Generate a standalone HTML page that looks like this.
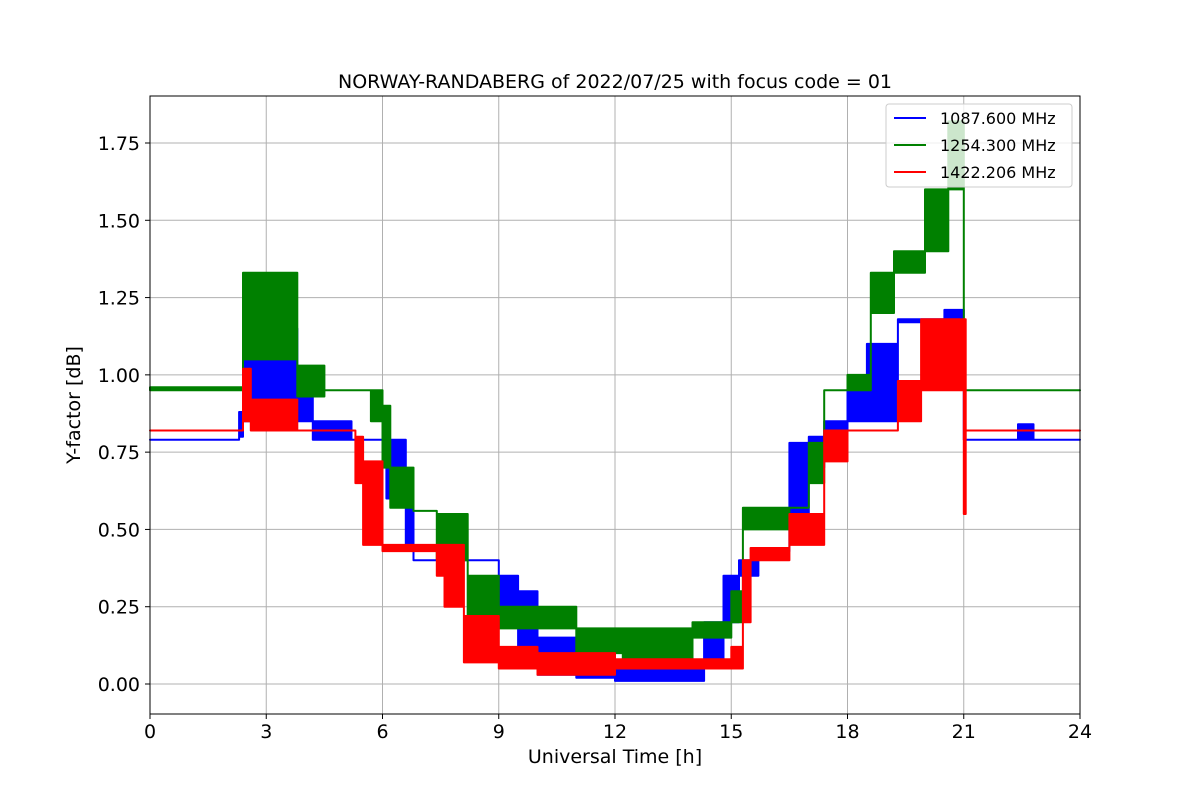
<!DOCTYPE html>
<html><head><meta charset="utf-8"><style>
body{margin:0;background:#fff;font-family:"Liberation Sans","DejaVu Sans",sans-serif}
svg text{font-family:"DejaVu Sans","Liberation Sans",sans-serif}
</style></head><body>
<svg id="chart" width="1200" height="800" viewBox="0 0 1200 800" xmlns="http://www.w3.org/2000/svg">
<rect width="1200" height="800" fill="#fff"/>
<g id="grid"></g>
<g id="series"></g>
<rect x="150" y="96" width="930" height="618" fill="none" stroke="#000" stroke-width="1"/>
<g id="ticks"></g>
<text x="615" y="88" text-anchor="middle" font-size="19">NORWAY-RANDABERG of 2022/07/25 with focus code = 01</text>
<text x="615" y="763" text-anchor="middle" font-size="19">Universal Time [h]</text>
<text transform="translate(80,405) rotate(-90)" text-anchor="middle" font-size="19">Y-factor [dB]</text>
<g>
<rect x="886" y="104" width="186" height="83" fill="#fff" fill-opacity="0.8" stroke="#ccc" rx="3"/>
<g><line x1="894" y1="118" x2="926" y2="118" stroke="blue" stroke-width="2"/><text x="940" y="124" font-size="16">1087.600 MHz</text></g>
<g><line x1="894" y1="145" x2="926" y2="145" stroke="green" stroke-width="2"/><text x="940" y="151" font-size="16">1254.300 MHz</text></g>
<g><line x1="894" y1="172" x2="926" y2="172" stroke="red" stroke-width="2"/><text x="940" y="178" font-size="16">1422.206 MHz</text></g>
</g>
</svg>
<script>
const xTicks=[0,3,6,9,12,15,18,21,24];
const yTicks=[0,0.25,0.5,0.75,1.0,1.25,1.5,1.75];
const yTickLabels=["0.00","0.25","0.50","0.75","1.00","1.25","1.50","1.75"];
// segments: [t0, t1, low, high]
const blue=[[0,2.3,0.79,0.79],[2.3,2.4,0.8,0.88],[2.4,3.8,0.85,1.15],[3.8,4.2,0.85,1.0],[4.2,5.2,0.79,0.85],[5.2,6.1,0.79,0.79],[6.1,6.6,0.6,0.79],[6.6,6.8,0.45,0.65],[6.8,9.0,0.40,0.40],[9.0,9.5,0.2,0.35],[9.5,10,0.12,0.3],[10,11,0.03,0.15],[11,12,0.02,0.08],[12,14.3,0.01,0.05],[14.3,14.8,0.05,0.2],[14.8,15.2,0.2,0.35],[15.2,15.7,0.35,0.4],[15.7,16.5,0.43,0.43],[16.5,17.0,0.55,0.78],[17.0,17.4,0.7,0.8],[17.4,18.0,0.78,0.85],[18.0,18.5,0.85,0.95],[18.5,19.3,0.85,1.1],[19.3,20.5,1.17,1.18],[20.5,21.0,1.12,1.21],[21.0,22.4,0.79,0.79],[22.4,22.8,0.79,0.84],[22.8,24,0.79,0.79]];
const green=[[0,2.4,0.95,0.96],[2.4,3.8,1.05,1.33],[3.8,4.5,0.93,1.03],[4.5,5.7,0.95,0.95],[5.7,6.0,0.85,0.95],[6.0,6.2,0.7,0.9],[6.2,6.8,0.57,0.7],[6.8,7.4,0.56,0.56],[7.4,8.2,0.4,0.55],[8.2,9.0,0.18,0.35],[9.0,11,0.18,0.25],[11,12.2,0.1,0.18],[12.2,14,0.05,0.18],[14,15,0.15,0.2],[15,15.3,0.2,0.3],[15.3,16.5,0.5,0.57],[16.5,17.0,0.57,0.57],[17.0,17.4,0.65,0.78],[17.4,18.0,0.95,0.95],[18.0,18.6,0.95,1.0],[18.6,19.2,1.2,1.33],[19.2,20.0,1.33,1.4],[20.0,20.6,1.4,1.6],[20.6,21.0,1.6,1.82],[21.0,24,0.95,0.95]];
const red=[[0,2.4,0.82,0.82],[2.4,2.6,0.85,1.02],[2.6,3.8,0.82,0.92],[3.8,5.3,0.82,0.82],[5.3,5.5,0.65,0.8],[5.5,6.0,0.45,0.72],[6.0,7.4,0.43,0.45],[7.4,7.6,0.35,0.45],[7.6,8.1,0.25,0.45],[8.1,9.0,0.07,0.22],[9.0,10,0.05,0.12],[10,12,0.03,0.1],[12,15,0.05,0.08],[15,15.3,0.05,0.12],[15.3,15.5,0.2,0.4],[15.5,16.5,0.4,0.44],[16.5,17.4,0.45,0.55],[17.4,18.0,0.72,0.82],[18.0,19.3,0.82,0.82],[19.3,19.9,0.85,0.98],[19.9,21.0,0.95,1.18],[21.0,21.05,0.55,1.18],[21.05,24,0.82,0.82]];
const NS="http://www.w3.org/2000/svg";
const X0=150,X1=1080,Y0=684,PY=309.14;
const xs=t=>X0+(X1-X0)*t/24;
const ys=v=>Y0-v*PY;
const grid=document.getElementById('grid'),ticks=document.getElementById('ticks'),ser=document.getElementById('series');
xTicks.forEach(t=>{
 const l=document.createElementNS(NS,'line');
 
 
 l.setAttribute('x1',xs(t));l.setAttribute('x2',xs(t));l.setAttribute('y1',96);l.setAttribute('y2',714);l.setAttribute('stroke','#b0b0b0');grid.appendChild(l);
 const k=document.createElementNS(NS,'line');
 
 
 k.setAttribute('x1',xs(t));k.setAttribute('x2',xs(t));k.setAttribute('y1',714);k.setAttribute('y2',719);k.setAttribute('stroke','#000');ticks.appendChild(k);
 const tx=document.createElementNS(NS,'text');
 
 
 tx.setAttribute('x',xs(t));tx.setAttribute('y',738);tx.setAttribute('text-anchor','middle');tx.setAttribute('font-size','19');tx.textContent=t;ticks.appendChild(tx);
});
yTicks.forEach((v,i)=>{
 const l=document.createElementNS(NS,'line');
 
 
 l.setAttribute('x1',150);l.setAttribute('x2',1080);l.setAttribute('y1',ys(v));l.setAttribute('y2',ys(v));l.setAttribute('stroke','#b0b0b0');grid.appendChild(l);
 const k=document.createElementNS(NS,'line');
 
 
 k.setAttribute('x1',145);k.setAttribute('x2',150);k.setAttribute('y1',ys(v));k.setAttribute('y2',ys(v));k.setAttribute('stroke','#000');ticks.appendChild(k);
 const tx=document.createElementNS(NS,'text');
 
 
 tx.setAttribute('x',140);tx.setAttribute('y',ys(v)+7);tx.setAttribute('text-anchor','end');tx.setAttribute('font-size','19');tx.textContent=yTickLabels[i];ticks.appendChild(tx);
});
function draw(segs,color,name){
 const up=[],lo=[];
 segs.forEach(s=>{up.push([xs(s[0]),ys(s[3])],[xs(s[1]),ys(s[3])]);lo.push([xs(s[0]),ys(s[2])],[xs(s[1]),ys(s[2])]);});
 const pts=up.concat(lo.reverse()).map(p=>p[0].toFixed(1)+','+p[1].toFixed(1)).join(' ');
 const p=document.createElementNS(NS,'polygon');
 
 
 p.setAttribute('points',pts);p.setAttribute('fill',color);p.setAttribute('stroke',color);p.setAttribute('stroke-width','2');p.setAttribute('stroke-linejoin','round');
 ser.appendChild(p);
}
draw(blue,'blue','series-1087-mhz');
draw(green,'green','series-1254-mhz');
draw(red,'red','series-1422-mhz');
</script>
</body></html>
